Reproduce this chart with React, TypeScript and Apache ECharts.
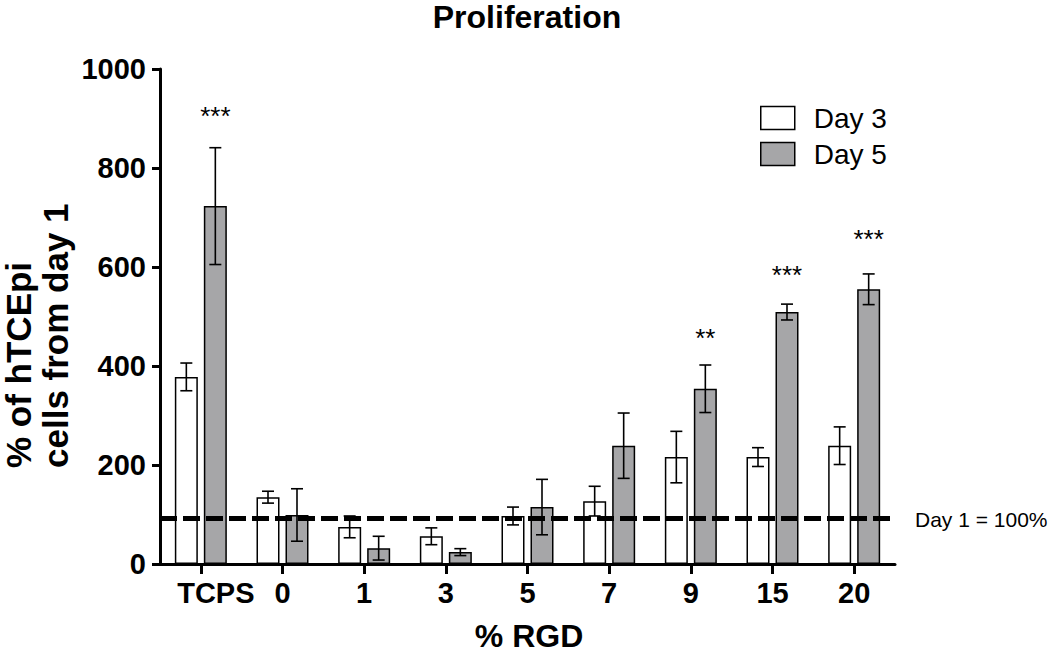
import React, { useEffect, useRef } from "react";
import * as echarts from "echarts";

const categories = ["TCPS", "0", "1", "3", "5", "7", "9", "15", "20"];
const day3Mean = [378, 135, 75, 56, 97, 127, 216, 216, 239];
const day3Err = [28, 12, 22, 17, 18, 30, 52, 19, 38];
const day5Mean = [723, 99, 32, 24, 115, 239, 354, 509, 555];
const day5Err = [118, 53, 24, 7, 56, 66, 48, 16, 31];
const sigLabels = ["***", "", "", "", "", "", "**", "***", "***"];
const sigY = [905, 0, 0, 0, 0, 0, 457, 584, 657];
const baselineValue = 93;
const baselineLabel = "Day 1 = 100%";
const yMin = 0;
const yMax = 1000;
const yStep = 200;

const FONT = "'Liberation Sans', Arial, Helvetica, sans-serif";
const GRAY = "#a6a6a8";
const BAR_W = 23;
const GAP = 6;
const OFF = (BAR_W + GAP) / 2;

function errRender(offset: number) {
  return (params: any, api: any) => {
    const i = api.value(0);
    const m = api.value(1);
    const e = api.value(2);
    const top = api.coord([i, m + e]);
    const bot = api.coord([i, m - e]);
    const x = top[0] + offset;
    const half = 6;
    const st = { stroke: "#000", lineWidth: 1.6 };
    return {
      type: "group",
      children: [
        { type: "line", shape: { x1: x, y1: top[1], x2: x, y2: bot[1] }, style: st },
        { type: "line", shape: { x1: x - half, y1: top[1], x2: x + half, y2: top[1] }, style: st },
        { type: "line", shape: { x1: x - half, y1: bot[1], x2: x + half, y2: bot[1] }, style: st },
      ],
    };
  };
}

export default function App() {
  const ref = useRef<HTMLDivElement>(null);
  useEffect(() => {
    if (!ref.current) return;
    const chart = echarts.init(ref.current, null, { renderer: "svg" });
    const err3 = categories.map((_, i) => [i, day3Mean[i], day3Err[i]]);
    const err5 = categories.map((_, i) => [i, day5Mean[i], day5Err[i]]);
    const sigData = categories
      .map((_, i) => (sigLabels[i] ? [i, sigY[i]] : null))
      .filter((d) => d !== null);
    chart.setOption({
      animation: false,
      backgroundColor: "#fff",
      title: {
        text: "Proliferation",
        left: 527,
        textAlign: "center",
        top: 1,
        padding: 0,
        textStyle: { fontFamily: FONT, fontSize: 32, fontWeight: "bold", color: "#000", lineHeight: 32 },
      },
      legend: {
        orient: "vertical",
        left: 760,
        top: 103,
        padding: 0,
        itemWidth: 34,
        itemHeight: 23,
        itemGap: 6,
        icon: "rect",
        data: [
          { name: "Day 3", itemStyle: { color: "#fff", borderColor: "#000", borderWidth: 1.5 } },
          { name: "Day 5", itemStyle: { color: GRAY, borderColor: "#000", borderWidth: 1.5 } },
        ],
        textStyle: { fontFamily: FONT, fontSize: 28, color: "#000", padding: [0, 0, 0, 14], lineHeight: 30 },
      },
      grid: { left: 160, right: 155, top: 69, bottom: 90 },
      xAxis: {
        type: "category",
        data: categories,
        axisLine: { lineStyle: { color: "#000", width: 3 } },
        axisTick: { show: true, interval: 0, alignWithLabel: true, length: 10, lineStyle: { color: "#000", width: 3 } },
        axisLabel: {
          interval: 0,
          fontFamily: FONT,
          fontSize: 29,
          fontWeight: "bold",
          color: "#000",
          margin: 14,
          formatter: (v: string) => (v === "TCPS" ? `{shift|${v}}` : v),
          rich: { shift: { fontFamily: FONT, fontSize: 29, fontWeight: "bold", color: "#000", padding: [0, 0, 0, 30] } },
        },
      },
      yAxis: {
        type: "value",
        min: yMin,
        max: yMax,
        interval: yStep,
        splitLine: { show: false },
        axisLine: { show: true, lineStyle: { color: "#000", width: 3 } },
        axisTick: { show: true, length: 8, lineStyle: { color: "#000", width: 3 } },
        axisLabel: {
          fontFamily: FONT,
          fontSize: 29,
          fontWeight: "bold",
          color: "#000",
          margin: 14,
          formatter: (v: number) => String(v),
        },
      },
      graphic: [
        {
          type: "text",
          x: 529,
          y: 636,
          style: {
            text: "% RGD",
            fontFamily: FONT,
            fontSize: 32,
            fontWeight: "bold",
            fill: "#000",
            align: "center",
            verticalAlign: "middle",
            lineHeight: 28,
          },
        },
        {
          type: "text",
          x: 37,
          y: 468,
          rotation: Math.PI / 2,
          style: {
            text: "% of hTCEpi\ncells from day 1",
            fontFamily: FONT,
            fontSize: 35,
            fontWeight: "bold",
            fill: "#000",
            align: "left",
            verticalAlign: "middle",
            lineHeight: 37,
          },
        },
        {
          type: "text",
          x: 915,
          y: 519,
          style: { text: baselineLabel, fontFamily: FONT, fontSize: 21, fill: "#000", align: "left", verticalAlign: "middle" },
        },
      ],
      series: [
        {
          name: "Day 3",
          type: "bar",
          data: day3Mean,
          barWidth: BAR_W,
          barGap: (GAP / BAR_W) * 100 + "%",
          itemStyle: { color: "#fff", borderColor: "#000", borderWidth: 1.5 },
          z: 2,
        },
        {
          name: "Day 5",
          type: "bar",
          data: day5Mean,
          barWidth: BAR_W,
          barGap: (GAP / BAR_W) * 100 + "%",
          itemStyle: { color: GRAY, borderColor: "#000", borderWidth: 1.5 },
          z: 2,
        },
        {
          name: "err3",
          type: "custom",
          data: err3,
          encode: { x: 0, y: 1 },
          renderItem: errRender(-OFF),
          z: 3,
          silent: true,
        },
        {
          name: "err5",
          type: "custom",
          data: err5,
          encode: { x: 0, y: 1 },
          renderItem: errRender(OFF),
          z: 3,
          silent: true,
          markLine: {
            silent: true,
            symbol: "none",
            label: { show: false },
            lineStyle: { color: "#000", width: 5, type: [17, 6] },
            data: [{ yAxis: baselineValue }],
          },
        },
        {
          name: "sig",
          type: "custom",
          data: sigData,
          encode: { x: 0, y: 1 },
          z: 4,
          silent: true,
          renderItem: (params: any, api: any) => {
            const i = api.value(0);
            const p = api.coord([i, api.value(1)]);
            return {
              type: "text",
              x: p[0] + OFF,
              y: p[1],
              style: {
                text: sigLabels[i],
                fontFamily: FONT,
                fontSize: 26,
                fill: "#000",
                align: "center",
                verticalAlign: "middle",
              },
            };
          },
        },
      ],
    });
    return () => chart.dispose();
  }, []);
  return <div ref={ref} style={{ position: "absolute", left: 0, top: 0, width: 1050, height: 654 }} />;
}
